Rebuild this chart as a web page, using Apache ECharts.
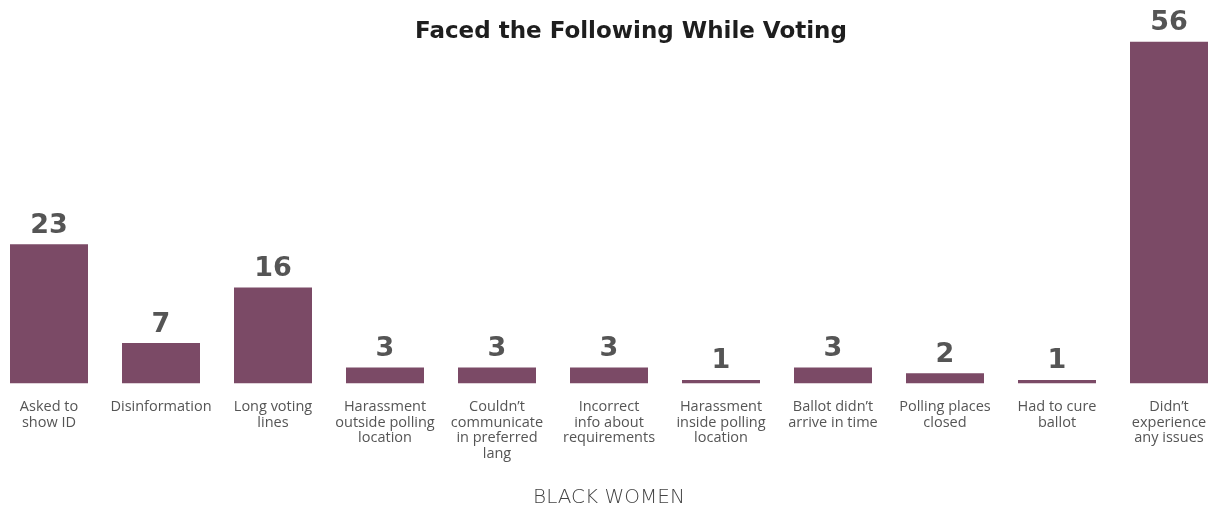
<!DOCTYPE html>
<html>
<head>
<meta charset="utf-8">
<script src="https://cdn.jsdelivr.net/npm/echarts@6/dist/echarts.min.js"></script>
<style>
html,body{margin:0;padding:0;background:#fff;}
#chart{width:1210px;height:508px;}
</style>
</head>
<body>
<div id="chart"></div>
<script>
const categories = [
  "Asked to\nshow ID",
  "Disinformation",
  "Long voting\nlines",
  "Harassment\noutside polling\nlocation",
  "Couldn\u2019t\ncommunicate\nin preferred\nlang",
  "Incorrect\ninfo about\nrequirements",
  "Harassment\ninside polling\nlocation",
  "Ballot didn\u2019t\narrive in time",
  "Polling places\nclosed",
  "Had to cure\nballot",
  "Didn\u2019t\nexperience\nany issues"
];
// Bar heights (percent)
const values = [22.8, 6.6, 15.7, 2.6, 2.6, 2.6, 0.55, 2.6, 1.65, 0.55, 56];
// Printed labels (rounded percent)
const labels = [23, 7, 16, 3, 3, 3, 1, 3, 2, 1, 56];
const titleText = "Faced the Following While Voting";
const axisName = "BLACK WOMEN";

const chart = echarts.init(document.getElementById('chart'), null, {renderer: 'canvas'});
chart.setOption({
  backgroundColor: '#ffffff',
  animation: false,
  title: {
    text: titleText,
    left: 626,
    top: 16,
    textAlign: 'center',
    textStyle: {
      fontFamily: 'DejaVu Sans',
      fontWeight: 'bold',
      fontSize: 23,
      color: '#1e1e1e'
    }
  },
  grid: {
    left: -7,
    width: 1232,
    top: 41.7,
    height: 341.6,
    containLabel: false,
    outerBoundsMode: 'none'
  },
  xAxis: {
    type: 'category',
    data: categories,
    name: axisName,
    nameLocation: 'middle',
    nameGap: 104,
    nameTextStyle: {
      fontFamily: 'DejaVu Sans',
      fontWeight: 200,
      fontSize: 20,
      color: '#444444'
    },
    axisLine: {show: false},
    axisTick: {show: false},
    axisLabel: {
      interval: 0,
      margin: 16,
      fontFamily: 'Open Sans',
      fontSize: 14.5,
      lineHeight: 15.5,
      color: '#555555',
      align: 'center'
    }
  },
  yAxis: {
    type: 'value',
    min: 0,
    max: 56,
    show: false,
    splitLine: {show: false}
  },
  series: [{
    type: 'bar',
    data: values,
    barWidth: 78,
    itemStyle: {color: '#7b4a66'},
    label: {
      show: true,
      position: 'top',
      distance: 5,
      formatter: p => String(labels[p.dataIndex]),
      fontFamily: 'DejaVu Sans',
      fontWeight: 'bold',
      fontSize: 27,
      color: '#555555'
    }
  }]
});
</script>
</body>
</html>
